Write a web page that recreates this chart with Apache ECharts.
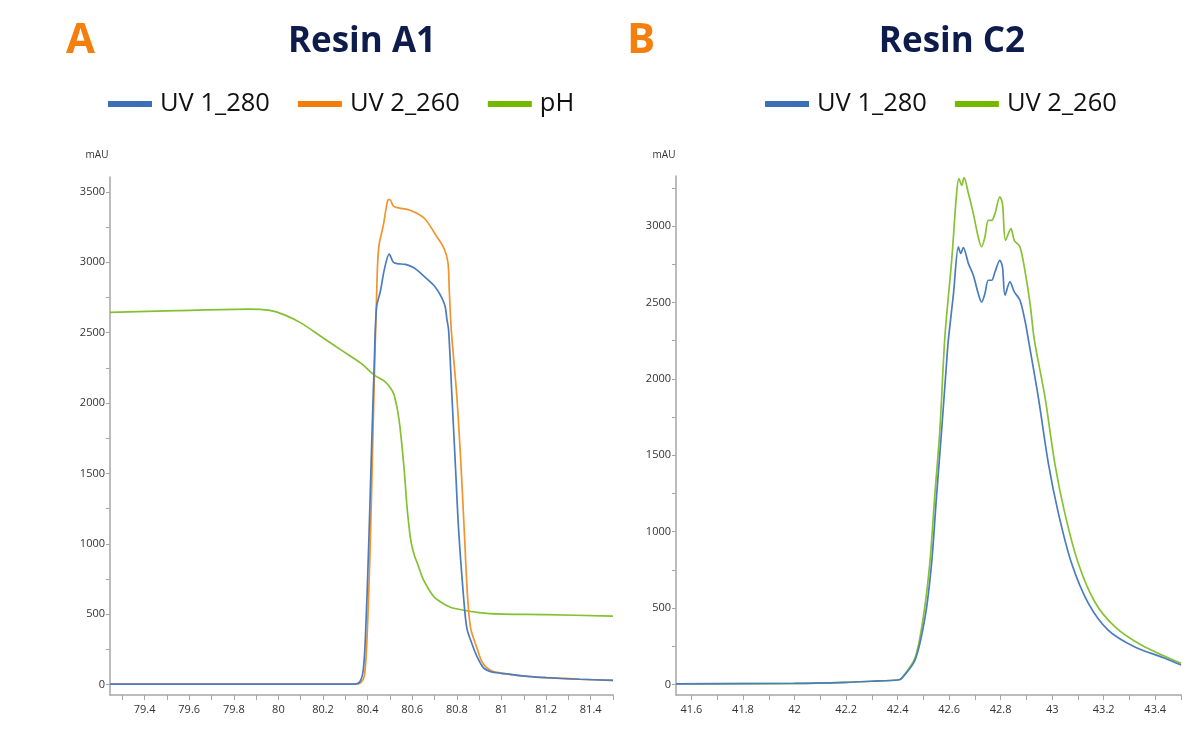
<!DOCTYPE html>
<html>
<head>
<meta charset="utf-8">
<title>Resin A1 / Resin C2</title>
<script src="https://cdn.jsdelivr.net/npm/echarts@6/dist/echarts.min.js"></script>
<style>
  html, body { margin: 0; padding: 0; background: #fff; }
  #main { width: 1189px; height: 738px; }
</style>
</head>
<body>
<div id="main"></div>
<script>
// ---- Resin A1 (panel A) ----
var aTime280 = [79.245, 80.34, 80.365, 80.38, 80.39, 80.405, 80.418, 80.43, 80.44, 80.458, 80.475, 80.497, 80.515, 80.534, 80.57, 80.609, 80.64, 80.667, 80.70, 80.725, 80.747, 80.755, 80.763, 80.778, 80.793, 80.808, 80.83, 80.845, 80.87, 80.89, 80.906, 80.921, 80.951, 81.0, 81.1, 81.2, 81.35, 81.5];
var aUv280 = [3, 3, 20, 100, 330, 1000, 1700, 2300, 2680, 2800, 2950, 3058, 3000, 2990, 2985, 2960, 2920, 2880, 2830, 2770, 2690, 2600, 2518, 2045, 1572, 1098, 624, 400, 280, 200, 151, 116, 92, 80, 60, 49, 38, 30];

var aTime260 = [79.245, 80.34, 80.37, 80.385, 80.395, 80.41, 80.422, 80.432, 80.44, 80.445, 80.452, 80.47, 80.49, 80.5, 80.515, 80.534, 80.59, 80.654, 80.711, 80.742, 80.76, 80.766, 80.775, 80.8, 80.818, 80.833, 80.848, 80.862, 80.89, 80.91, 80.93, 80.96, 81.0, 81.1, 81.2, 81.35, 81.5];
var aUv260 = [3, 3, 15, 60, 250, 900, 1650, 2300, 2750, 3000, 3130, 3260, 3440, 3445, 3400, 3388, 3370, 3313, 3180, 3100, 3000, 2800, 2520, 2045, 1572, 1098, 624, 400, 260, 170, 125, 95, 82, 61, 49, 38, 30];

var aTimePh = [79.245, 79.541, 79.867, 79.956, 80.03, 80.104, 80.193, 80.282, 80.371, 80.43, 80.475, 80.504, 80.519, 80.541, 80.564, 80.575, 80.585, 80.595, 80.61, 80.623, 80.65, 80.697, 80.74, 80.786, 80.934, 81.2, 81.5];
var aPh = [2644, 2656, 2668, 2660, 2625, 2566, 2471, 2376, 2282, 2199, 2156, 2104, 2057, 1880, 1524, 1290, 1130, 1010, 915, 862, 745, 624, 575, 542, 506, 497, 487];

// ---- Resin C2 (panel B) ----
var bTime280 = [41.54, 42.0, 42.2, 42.3, 42.4, 42.416, 42.468, 42.507, 42.532, 42.551, 42.571, 42.59, 42.597, 42.617, 42.636, 42.645, 42.655, 42.675, 42.694, 42.713, 42.726, 42.739, 42.752, 42.765, 42.778, 42.797, 42.807, 42.817, 42.836, 42.853, 42.875, 42.894, 42.908, 42.946, 42.985, 43.024, 43.075, 43.14, 43.217, 43.319, 43.435, 43.5];
var bUv280 = [5, 8, 15, 22, 30, 41, 161, 444, 793, 1228, 1664, 2102, 2253, 2558, 2863, 2820, 2859, 2754, 2678, 2558, 2503, 2558, 2645, 2645, 2699, 2776, 2732, 2547, 2634, 2569, 2514, 2384, 2253, 1882, 1449, 1122, 795, 533, 357, 248, 174, 128];

var bTime260 = [41.54, 42.0, 42.2, 42.3, 42.4, 42.416, 42.468, 42.5, 42.525, 42.544, 42.564, 42.584, 42.61, 42.629, 42.638, 42.649, 42.658, 42.675, 42.694, 42.713, 42.726, 42.739, 42.752, 42.765, 42.778, 42.797, 42.807, 42.819, 42.84, 42.853, 42.875, 42.894, 42.914, 42.931, 42.972, 43.01, 43.049, 43.101, 43.165, 43.243, 43.346, 43.5];
var bUv260 = [5, 8, 15, 22, 30, 42, 175, 444, 793, 1228, 1664, 2285, 2775, 3212, 3310, 3266, 3316, 3212, 3081, 2928, 2863, 2928, 3037, 3037, 3081, 3190, 3148, 2906, 2983, 2906, 2863, 2710, 2495, 2253, 1882, 1449, 1122, 795, 542, 379, 259, 139];

// tick labels
var aXLabels = [79.4, 79.6, 79.8, 80, 80.2, 80.4, 80.6, 80.8, 81, 81.2, 81.4];
var aXTicks = [79.3, 79.4, 79.5, 79.6, 79.7, 79.8, 79.9, 80, 80.1, 80.2, 80.3, 80.4, 80.5, 80.6, 80.7, 80.8, 80.9, 81, 81.1, 81.2, 81.3, 81.4, 81.5];
var aYLabels = [0, 500, 1000, 1500, 2000, 2500, 3000, 3500];
var aYTicks = [0, 250, 500, 750, 1000, 1250, 1500, 1750, 2000, 2250, 2500, 2750, 3000, 3250, 3500];
var bXLabels = [41.6, 41.8, 42, 42.2, 42.4, 42.6, 42.8, 43, 43.2, 43.4];
var bXTicks = [41.6, 41.7, 41.8, 41.9, 42, 42.1, 42.2, 42.3, 42.4, 42.5, 42.6, 42.7, 42.8, 42.9, 43, 43.1, 43.2, 43.3, 43.4, 43.5];
var bYLabels = [0, 500, 1000, 1500, 2000, 2500, 3000];
var bYTicks = [0, 250, 500, 750, 1000, 1250, 1500, 1750, 2000, 2250, 2500, 2750, 3000, 3250];

function pairs(xs, ys) {
	var out = [];
	for (var i = 0; i < xs.length; i++) out.push([xs[i], ys[i]]);
	return out;
}

var axisGrey = '#a6a6a6';
var tickFont = { fontFamily: 'Open Sans', fontSize: 11, color: '#333' };
var plain = function (v) { return String(v); };

function xAxisOf(grid, min, max, labels, ticks) {
	return {
		type: 'value', gridIndex: grid, min: min, max: max,
		axisLine: { show: true, onZero: false, lineStyle: { color: axisGrey, width: 1.5 } },
		axisTick: { show: true, length: 5, customValues: ticks, lineStyle: { color: axisGrey } },
		axisLabel: Object.assign({ margin: 9, customValues: labels, formatter: plain }, tickFont),
		splitLine: { show: false }
	};
}
function yAxisOf(grid, min, max, labels, ticks) {
	return {
		type: 'value', gridIndex: grid, min: min, max: max,
		axisLine: { show: true, lineStyle: { color: axisGrey, width: 1.5 } },
		axisTick: { show: true, length: 4, customValues: ticks, lineStyle: { color: axisGrey } },
		axisLabel: Object.assign({ margin: 5, customValues: labels, formatter: plain }, tickFont),
		splitLine: { show: false }
	};
}
function line(name, grid, data, color) {
	return {
		name: name, type: 'line', xAxisIndex: grid, yAxisIndex: grid,
		data: data, showSymbol: false, smooth: 0.3,
		lineStyle: { color: color, width: 1.7 }, itemStyle: { color: color },
		animation: false
	};
}

var titleFont = 'bold 35px "Open Sans"';
var letterFont = 'bold 42px "Open Sans"';
var legendText = { fontFamily: 'Open Sans', fontSize: 25.5, color: '#111', padding: [0, 0, 0, 3] };

var myChart = echarts.init(document.getElementById('main'));
var option = {
	backgroundColor: '#fff',
	animation: false,
	graphic: [
		{ type: 'text', x: 66, y: 41, style: { text: 'A', font: letterFont, fill: '#f57f0c', verticalAlign: 'middle' } },
		{ type: 'text', x: 362, y: 42, style: { text: 'Resin A1', font: titleFont, fill: '#0e1c4b', align: 'center', verticalAlign: 'middle' } },
		{ type: 'text', x: 627, y: 41, style: { text: 'B', font: letterFont, fill: '#f57f0c', verticalAlign: 'middle' } },
		{ type: 'text', x: 952, y: 42, style: { text: 'Resin C2', font: titleFont, fill: '#0e1c4b', align: 'center', verticalAlign: 'middle' } },
		{ type: 'text', x: 97, y: 155, style: { text: 'mAU', font: '10px "Open Sans"', fill: '#333', align: 'center', verticalAlign: 'middle' } },
		{ type: 'text', x: 664, y: 155, style: { text: 'mAU', font: '10px "Open Sans"', fill: '#333', align: 'center', verticalAlign: 'middle' } }
	],
	legend: [
		{
			left: 108, top: 91, padding: 0, icon: 'rect', itemWidth: 44, itemHeight: 6, itemGap: 28,
			textStyle: legendText, selectedMode: false,
			data: [
				{ name: 'UV 1_280', itemStyle: { color: '#3b70b7' } },
				{ name: 'UV 2_260', itemStyle: { color: '#ef7f08' } },
				{ name: 'pH', itemStyle: { color: '#76b800' } }
			]
		},
		{
			left: 765, top: 91, padding: 0, icon: 'rect', itemWidth: 44, itemHeight: 6, itemGap: 28,
			textStyle: legendText, selectedMode: false,
			data: [
				{ name: 'UV 1_280', itemStyle: { color: '#3b70b7' } },
				{ name: 'UV 2_260', itemStyle: { color: '#76b800' } }
			]
		}
	],
	grid: [
		{ left: 110, right: 576, top: 177, bottom: 43 },
		{ left: 676, right: 8, top: 176, bottom: 43 }
	],
	xAxis: [
		xAxisOf(0, 79.245, 81.5, aXLabels, aXTicks),
		xAxisOf(1, 41.54, 43.5, bXLabels, bXTicks)
	],
	yAxis: [
		yAxisOf(0, -74, 3606, aYLabels, aYTicks),
		yAxisOf(1, -68, 3327, bYLabels, bYTicks)
	],
	series: [
		line('pH', 0, pairs(aTimePh, aPh), '#84c131'),
		line('UV 2_260', 0, pairs(aTime260, aUv260), '#f2932b'),
		line('UV 1_280', 0, pairs(aTime280, aUv280), '#4a7cc0'),
		line('UV 2_260', 1, pairs(bTime260, bUv260), '#86c232'),
		line('UV 1_280', 1, pairs(bTime280, bUv280), '#4a7cc0')
	]
};
myChart.setOption(option);
</script>
</body>
</html>
